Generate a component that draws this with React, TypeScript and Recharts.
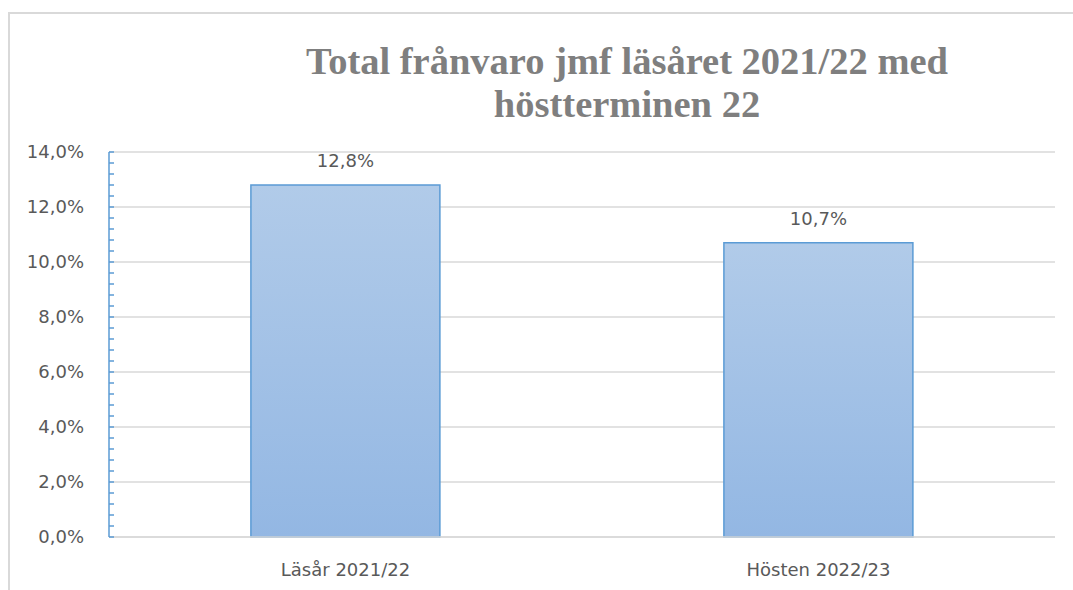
import React from 'react';
import { BarChart, Bar, XAxis, YAxis, CartesianGrid, LabelList } from 'recharts';

const categories = ['Läsår 2021/22', 'Hösten 2022/23'];
const values = [0.128, 0.107];
const majorTicks = [0, 0.02, 0.04, 0.06, 0.08, 0.1, 0.12, 0.14];
const minorStep = 0.004;
const titleLines = ['Total frånvaro jmf läsåret 2021/22 med', 'höstterminen 22'];

const data = categories.map((name, i) => ({ name, value: values[i] }));
const allTicks: number[] = [];
for (let i = 0; i <= 35; i++) allTicks.push(Math.round(i * minorStep * 10000) / 10000);

const fmt = (v: number) => (v * 100).toFixed(1).replace('.', ',') + '%';
const FONT = '"DejaVu Sans", sans-serif';

const YTick = (props: any) => {
  const { x, y, payload } = props;
  const v = payload.value;
  const isMajor = majorTicks.some((m) => Math.abs(m - v) < 1e-6);
  if (!isMajor) return <g />;
  return (
    <text x={x} y={y} dy={6} textAnchor="end" fill="#595959" fontSize={18} fontFamily={FONT}>
      {fmt(v)}
    </text>
  );
};

export default function App() {
  return (
    <div style={{ position: 'absolute', left: 0, top: 0, width: 1073, height: 590, overflow: 'hidden', background: '#fff' }}>
      <div style={{ position: 'absolute', left: 8, top: 12, width: 1200, height: 700, borderLeft: '2px solid #D9D9D9', borderTop: '2px solid #D9D9D9' }} />
      <div style={{ position: 'absolute', left: 227, top: 40, width: 800, textAlign: 'center', fontFamily: '"Liberation Serif", "Times New Roman", serif', fontWeight: 'bold', fontSize: 38.5, lineHeight: '43px', color: '#7F7F7F' }}>
        {titleLines.map((t) => (
          <div key={t}>{t}</div>
        ))}
      </div>
      <div style={{ position: 'absolute', left: 0, top: 0 }}>
        <BarChart width={1073} height={590} data={data} margin={{ top: 152, right: 18, bottom: 23, left: 9 }} barCategoryGap="30%">
          <defs>
            <linearGradient id="barGrad" x1="0" y1="0" x2="0" y2="1">
              <stop offset="0%" stopColor="#B1CBE9" />
              <stop offset="100%" stopColor="#93B7E3" />
            </linearGradient>
          </defs>
          <CartesianGrid vertical={false} stroke="#D9D9D9" strokeWidth={1.5} horizontalValues={majorTicks} />
          <XAxis
            dataKey="name"
            axisLine={{ stroke: '#D9D9D9', strokeWidth: 1.5 }}
            tickLine={false}
            tickSize={0}
            tickMargin={26}
            height={30}
            tick={{ fill: '#595959', fontSize: 18, fontFamily: FONT }}
          />
          <YAxis
            width={100}
            domain={[0, 0.14]}
            ticks={allTicks}
            interval={0}
            axisLine={{ stroke: '#5B9BD5', strokeWidth: 1.5 }}
            tickLine={{ stroke: '#5B9BD5', strokeWidth: 1.5 }}
            tickSize={-5}
            tickMargin={30}
            tick={<YTick />}
          />
          <Bar dataKey="value" fill="url(#barGrad)" stroke="#5B9BD5" strokeWidth={1.5} isAnimationActive={false}>
            <LabelList dataKey="value" position="top" offset={18} formatter={(v: any) => fmt(Number(v))} fill="#595959" fontSize={18} fontFamily={FONT} />
          </Bar>
        </BarChart>
      </div>
    </div>
  );
}
